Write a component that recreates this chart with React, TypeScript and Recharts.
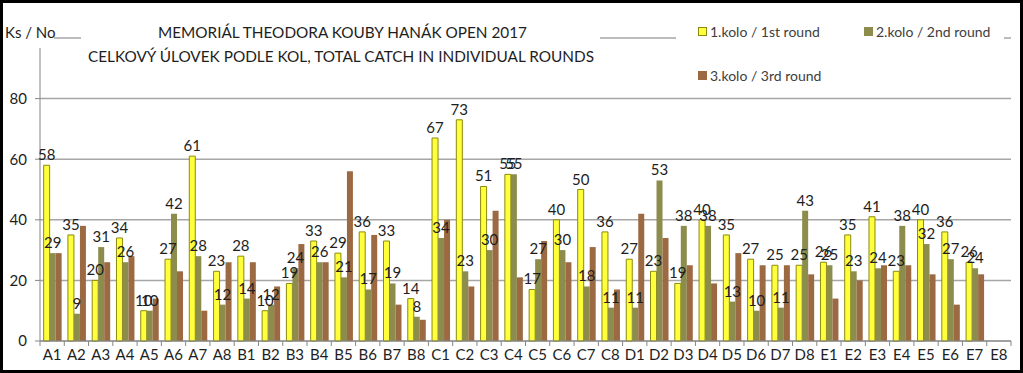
import React from "react";
import { BarChart, Bar, XAxis, YAxis, CartesianGrid, LabelList } from "recharts";

// Categories (fishing pegs) and catch per round
const categories = [
  "A1", "A2", "A3", "A4", "A5", "A6", "A7", "A8",
  "B1", "B2", "B3", "B4", "B5", "B6", "B7", "B8",
  "C1", "C2", "C3", "C4", "C5", "C6", "C7", "C8",
  "D1", "D2", "D3", "D4", "D5", "D6", "D7", "D8",
  "E1", "E2", "E3", "E4", "E5", "E6", "E7", "E8",
];
const round1 = [
  58, 35, 20, 34, 10, 27, 61, 23,
  28, 10, 19, 33, 29, 36, 33, 14,
  67, 73, 51, 55, 17, 40, 50, 36,
  27, 23, 19, 40, 35, 27, 25, 25,
  26, 35, 41, 23, 40, 36, 26, null,
];
const round2 = [
  29, 9, 31, 26, 10, 42, 28, 12,
  14, 12, 24, 26, 21, 17, 19, 8,
  34, 23, 30, 55, 27, 30, 18, 11,
  11, 53, 38, 38, 13, 10, 11, 43,
  25, 23, 24, 38, 32, 27, 24, null,
];
const round3 = [
  29, 38, 26, 28, 14, 23, 10, 26,
  26, 18, 32, 26, 56, 35, 12, 7,
  40, 18, 43, 21, 33, 26, 31, 17,
  42, 34, 25, 19, 29, 25, 25, 22,
  14, 20, 25, 25, 22, 12, 22, null,
];
const yTicks = [0, 20, 40, 60, 80, 100];
const seriesNames = ["1.kolo / 1st round", "2.kolo / 2nd round", "3.kolo / 3rd round"];
const titleLines = [
  "MEMORIÁL THEODORA KOUBY HANÁK OPEN 2017",
  "CELKOVÝ ÚLOVEK PODLE KOL, TOTAL CATCH IN INDIVIDUAL ROUNDS",
];

const COLORS = ["#ffff3c", "#8c8c4c", "#9c6a42"];
const FONT = "Lato, 'Open Sans', sans-serif";

const data = categories.map((c, i) => ({
  peg: c,
  r1: round1[i],
  r2: round2[i],
  r3: round3[i],
}));

// x tick: label centred, tick mark on category boundary (Excel style)
const PegTick = (props: any) => {
  const { x, y, payload } = props;
  const half = payload && payload.offset ? payload.offset : 12.1;
  const last = payload && payload.index === categories.length - 1;
  return (
    <g>
      <line x1={x - half} y1={y} x2={x - half} y2={y + 5} stroke="#868686" />
      {last && <line x1={x + half} y1={y} x2={x + half} y2={y + 5} stroke="#868686" />}
      <text x={x} y={y + 19} textAnchor="middle" fontSize={15} fill="#1e1e1e" fontFamily={FONT}>
        {payload.value}
      </text>
    </g>
  );
};

const legendPos = [
  { left: 698, top: 24 },
  { left: 864, top: 24 },
  { left: 698, top: 68 },
];

export default function App() {
  return (
    <div style={{ position: "absolute", left: 0, top: 0, width: 1023, height: 373, background: "#fff" }}>
      <BarChart
        width={1023}
        height={373}
        data={data}
        margin={{ top: 38, right: 12, bottom: 0, left: 0 }}
        barCategoryGap="15%"
        barGap={0}
      >
        <CartesianGrid vertical={false} stroke="#a6a6a6" strokeWidth={1.5} />
        <XAxis
          dataKey="peg"
          height={32}
          interval={0}
          tickLine={false}
          tickSize={0}
          tickMargin={0}
          stroke="#868686"
          tick={<PegTick />}
        />
        <YAxis
          width={40}
          domain={[0, 100]}
          ticks={yTicks}
          interval={0}
          tickSize={5}
          tickMargin={8}
          stroke="#868686"
          tick={{ fontSize: 15, fill: "#1e1e1e", fontFamily: FONT }}
          tickFormatter={(v: number) => (v === 100 ? "" : String(v))}
        />
        <Bar dataKey="r1" name={seriesNames[0]} fill={COLORS[0]} stroke="#8a8a10" strokeWidth={1} isAnimationActive={false}>
          <LabelList dataKey="r1" position="top" offset={5} fontSize={15} fill="#1e1e1e" fontFamily={FONT} />
        </Bar>
        <Bar dataKey="r2" name={seriesNames[1]} fill={COLORS[1]} isAnimationActive={false}>
          <LabelList dataKey="r2" position="top" offset={5} fontSize={15} fill="#1e1e1e" fontFamily={FONT} />
        </Bar>
        <Bar dataKey="r3" name={seriesNames[2]} fill={COLORS[2]} isAnimationActive={false} />
      </BarChart>

      {/* axis caption and title boxes sit over the top gridline, like in the original */}
      <svg width={1023} height={373} style={{ position: "absolute", left: 0, top: 0, pointerEvents: "none" }}>
        <rect x={3} y={20} width={51} height={28} fill="#fff" />
        <text x={5} y={38} fontSize={15} fill="#1e1e1e" fontFamily={FONT}>
          Ks / No
        </text>
        <rect x={81} y={16} width={519} height={54} fill="#fff" />
        <text x={158} y={38} fontSize={16} fill="#1e1e1e" fontFamily={FONT} textLength={369} lengthAdjust="spacingAndGlyphs">
          {titleLines[0]}
        </text>
        <text x={88} y={62} fontSize={16} fill="#1e1e1e" fontFamily={FONT} textLength={506} lengthAdjust="spacingAndGlyphs">
          {titleLines[1]}
        </text>
        <rect x={676} y={18} width={328} height={70} fill="#fff" />
      </svg>

      {/* legend */}
      {seriesNames.map((n, i) => (
        <div
          key={n}
          style={{
            position: "absolute",
            left: legendPos[i].left,
            top: legendPos[i].top,
            height: 14,
            display: "flex",
            alignItems: "center",
            fontFamily: FONT,
            fontSize: 14,
            color: "#404040",
            whiteSpace: "nowrap",
          }}
        >
          <span
            style={{
              display: "inline-block",
              width: 7,
              height: 7,
              background: COLORS[i],
              border: i === 0 ? "1px solid #8a8a10" : "1px solid " + COLORS[i],
              marginRight: 3,
            }}
          />
          {n}
        </div>
      ))}

      <div
        style={{
          position: "absolute",
          left: 0,
          top: 0,
          width: 1023,
          height: 373,
          boxSizing: "border-box",
          border: "3px solid #000",
          pointerEvents: "none",
        }}
      />
    </div>
  );
}
